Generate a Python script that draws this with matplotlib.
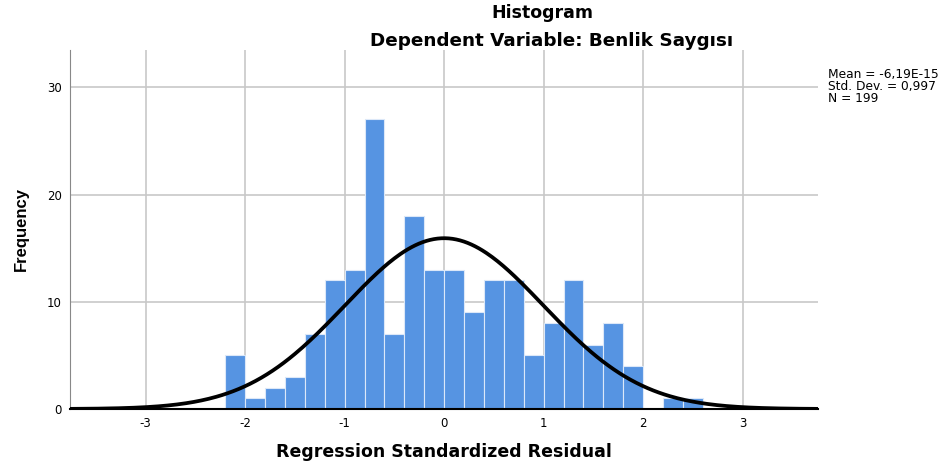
import matplotlib.pyplot as plt
import numpy as np

plt.rcParams['font.family'] = ['Liberation Sans', 'DejaVu Sans']
plt.rcParams['axes.unicode_minus'] = False

# histogram bins (left edges, width 0.2) and counts
bin_width = 0.2
counts = [5, 1, 2, 3, 7, 12, 13, 27, 7, 18, 13, 13, 9, 12, 12, 5, 8, 12, 6, 8, 4, 0, 1, 1]
bin_left = -2.2 + bin_width * np.arange(len(counts))
mean = -6.19e-15
sd = 0.997
n = 199

fig = plt.figure(figsize=(9.45, 4.66), dpi=100)
ax = fig.add_axes([0.074, 0.1223, 0.792, 0.771])

ax.set_axisbelow(True)
ax.grid(True, color='#c8c8c8', linewidth=1.2)
ax.bar(bin_left, counts, width=bin_width, align='edge', color='#5694e2',
       edgecolor='#dce8f8', linewidth=0.8, zorder=2)

x = np.linspace(-3.76, 3.76, 400)
y = n * bin_width / (sd * np.sqrt(2 * np.pi)) * np.exp(-0.5 * ((x - mean) / sd) ** 2)
ax.plot(x, y, color='black', linewidth=2.7, zorder=3)

ax.set_xlim(-3.76, 3.76)
ax.set_ylim(0, 33.5)
ax.set_xticks([-3, -2, -1, 0, 1, 2, 3])
ax.set_yticks([0, 10, 20, 30])
ax.tick_params(length=0, labelsize=9, pad=6)
for lab in ax.get_xticklabels() + ax.get_yticklabels():
    lab.set_family('DejaVu Sans')
    lab.set_fontsize(8.5)
for s in ['top', 'right']:
    ax.spines[s].set_visible(False)
ax.spines['left'].set_color('#888888')
ax.spines['bottom'].set_color('black')
ax.spines['bottom'].set_linewidth(1.5)

ax.set_xlabel('Regression Standardized Residual', fontsize=12.5, fontweight='bold',
              family='DejaVu Sans', labelpad=9)
ax.set_ylabel('Frequency', fontsize=12, fontweight='bold', labelpad=13)

fig.text(0.574, 0.972, 'Histogram', ha='center', va='center', fontsize=12.5,
         fontweight='bold', family='DejaVu Sans')
fig.text(0.584, 0.913, 'Dependent Variable: Benlik Saygısı', ha='center', va='center',
         fontsize=13.2, fontweight='bold', family='DejaVu Sans')

fig.text(0.876, 0.815, 'Mean = -6,19E-15\nStd. Dev. = 0,997\nN = 199', ha='left', va='center',
         fontsize=8.8, family='DejaVu Sans', linespacing=0.92)

fig.savefig('out.png', dpi=100)
